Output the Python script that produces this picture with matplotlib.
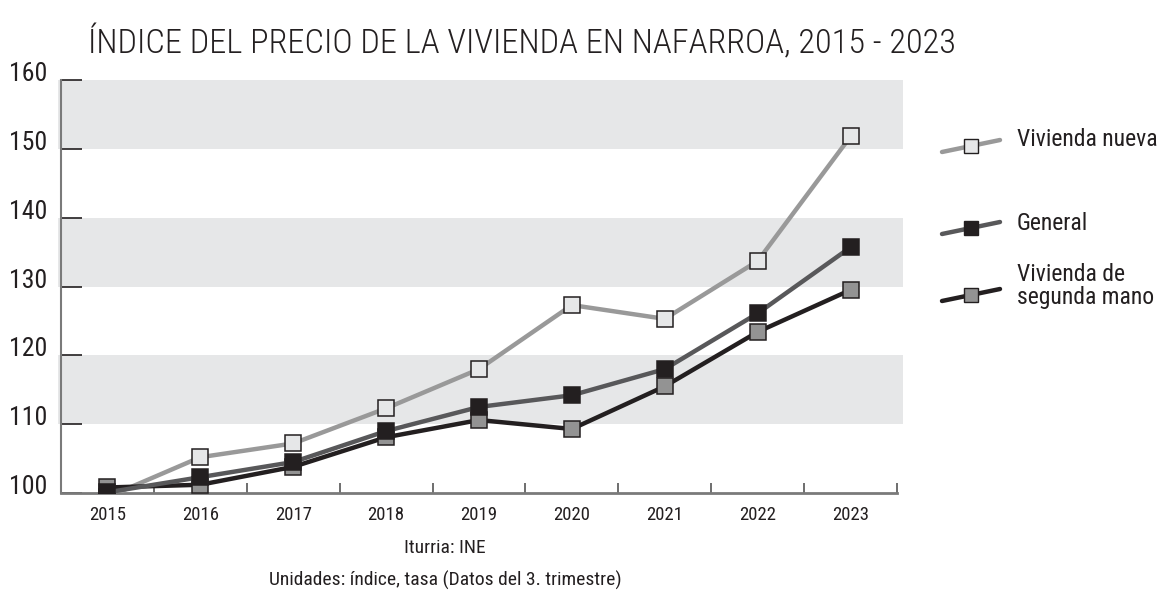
import numpy as np
import matplotlib.pyplot as plt
import matplotlib.transforms as mtransforms
from matplotlib import font_manager as fm
from matplotlib.lines import Line2D

# Datos
years = ['2015', '2016', '2017', '2018', '2019', '2020', '2021', '2022', '2023']
vivienda_nueva = [99.4, 105.2, 107.2, 112.3, 118.0, 127.3, 125.3, 133.7, 151.8]
general = [100.1, 102.3, 104.5, 109.0, 112.5, 114.2, 118.0, 126.1, 135.7]
segunda_mano = [100.8, 101.2, 103.8, 108.1, 110.6, 109.3, 115.5, 123.4, 129.5]
yticks = [100, 110, 120, 130, 140, 150, 160]
bands = [(110, 120), (130, 140), (150, 160)]

DARK = '#231f20'

# buscar una fuente estrecha instalada
FONT, STRETCH = 'DejaVu Sans', 'normal'
fonts = fm.fontManager.ttflist
names = {f.name for f in fonts}
for cand in ['Liberation Sans Narrow', 'Roboto Condensed', 'Open Sans Condensed']:
    if cand in names:
        FONT = cand
        break
else:
    cond = [f for f in fonts if str(f.stretch) in ('condensed', 'semi-condensed', '87.5', '75')
            and f.style == 'normal']
    if cond:
        FONT, STRETCH = cond[0].name, cond[0].stretch
plt.rcParams['font.family'] = [FONT, 'DejaVu Sans']
plt.rcParams['font.stretch'] = STRETCH

fig = plt.figure(figsize=(11.75, 5.93), dpi=100)
ax = fig.add_axes([61 / 1175, 1 - 493 / 593, (897 - 61) / 1175, (493 - 80) / 593])

x = np.arange(len(years)) + 0.5

for lo, hi in bands:
    ax.axhspan(lo, hi, xmin=-0.004, xmax=1.007, color='#e6e7e8', lw=0, zorder=0, clip_on=False)

series = [
    (vivienda_nueva, '#999999', '#e6e7e8', 'Vivienda nueva'),
    (segunda_mano, DARK, '#939393', 'Vivienda de\nsegunda mano'),
    (general, '#58585a', DARK, 'General'),
]
for vals, lc, fc, lab in series:
    ax.plot(x, vals, color=lc, lw=3.2, marker='s', ms=12, mfc=fc, mec=DARK, mew=1.1,
            solid_joinstyle='miter', zorder=3)

ax.set_xlim(0, len(years))
ax.set_ylim(100, 160)

ax.spines[['top', 'right']].set_visible(False)
ax.spines['left'].set_color('#7a7a7a')
ax.spines['left'].set_linewidth(1.5)
ax.spines['bottom'].set_color('#7a7a7a')
ax.spines['bottom'].set_linewidth(2)

ax.set_yticks(yticks)
ax.set_yticklabels([str(v) for v in yticks], fontsize=18.5, color=DARK)
ax.tick_params(axis='y', direction='in', length=15, width=1.2, color=DARK, pad=10)
offset = mtransforms.ScaledTranslation(0, 6 / 72, fig.dpi_scale_trans)
for lbl in ax.get_yticklabels():
    lbl.set_transform(lbl.get_transform() + offset)

ax.set_xticks(x)
ax.set_xticklabels(years, fontsize=13.5, color=DARK)
ax.tick_params(axis='x', which='major', length=0, pad=9)
ax.set_xticks(np.arange(len(years) + 1), minor=True)
ax.tick_params(axis='x', which='minor', direction='in', length=7, width=1.2, color='#555555')

# Título
title = fig.text(88 / 1175, 1 - 53 / 593, 'ÍNDICE DEL PRECIO DE LA VIVIENDA EN NAFARROA, 2015 - 2023',
                 fontsize=30, color=DARK, ha='left', va='baseline', fontweight='light')
# ajustar el tamaño al ancho del original (~870 px)
fig.canvas.draw()
w = title.get_window_extent().width
title.set_fontsize(min(34, 30 * 870 / w))

# Leyenda manual
leg = [
    (series[0], 146, 140),
    (series[2], 228, 223),
    (series[1], 295, 286),
]
for (vals, lc, fc, lab), ym, yt in leg:
    fig.add_artist(Line2D([942 / 1175, 1000 / 1175], [1 - (ym + 6) / 593, 1 - (ym - 6) / 593],
                          transform=fig.transFigure, color=lc, lw=3.2, solid_capstyle='round'))
    fig.add_artist(Line2D([971 / 1175], [1 - ym / 593], transform=fig.transFigure,
                          marker='s', ms=10.5, mfc=fc, mec=DARK, mew=1.0, lw=0))
    fig.text(1017 / 1175, 1 - yt / 593, lab, fontsize=17, color=DARK, ha='left', va='center',
             linespacing=1.0)

# Fuente
fig.text(445 / 1175, 1 - 548 / 593, 'Iturria: INE', fontsize=14, color=DARK, ha='center', va='center')
fig.text(445 / 1175, 1 - 580 / 593, 'Unidades: índice, tasa (Datos del 3. trimestre)',
         fontsize=14, color=DARK, ha='center', va='center')

fig.savefig('out.png', dpi=100)
